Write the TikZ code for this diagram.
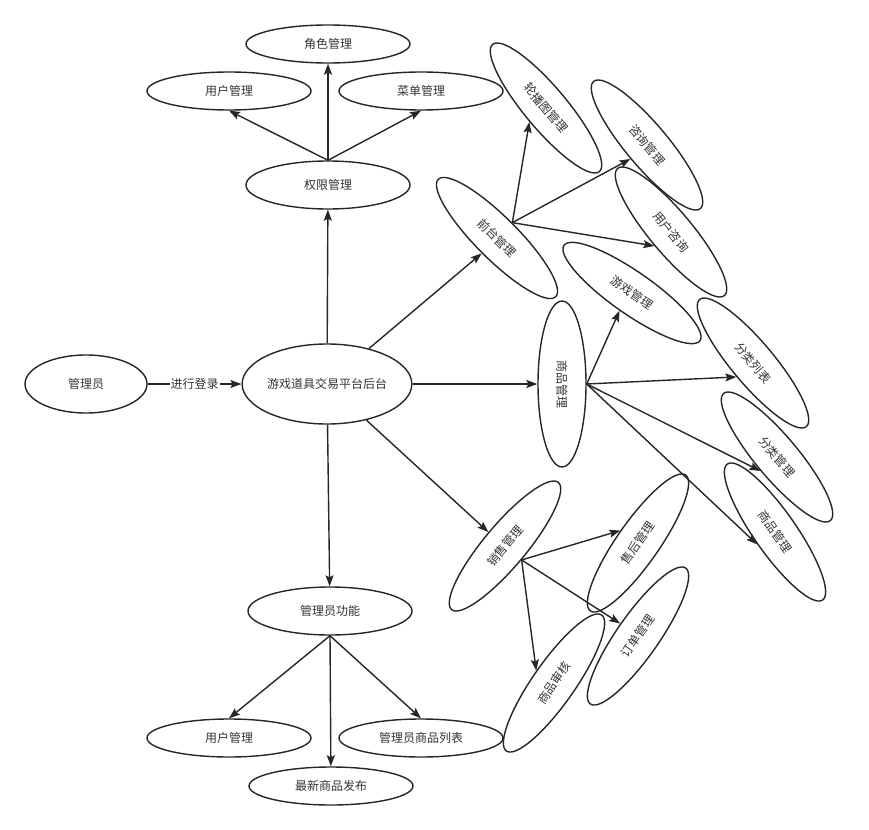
\documentclass[tikz,border=0pt]{standalone}
\usepackage{fontspec}
\setmainfont{Noto Sans CJK SC}
\usetikzlibrary{arrows.meta, shapes.geometric}

\begin{document}
\begin{tikzpicture}[x=1pt, y=-1pt, >={Stealth[length=11pt, width=8pt, inset=2pt]}, line width=1.4pt, draw=black!85, text=black!80,
	ent/.style={draw, ellipse, inner sep=0pt, minimum width=164pt, minimum height=38pt, font=\fontsize{12}{14}\selectfont},
	big/.style={ent, minimum height=48pt},
	tilt/.style={ent, minimum width=166pt, minimum height=42pt, rotate=#1}]
				\useasboundingbox (0,0) rectangle (869,829);
				\node [ent, minimum width=122pt, minimum height=58pt] (mgr) at (86,384) {管理员};
				\node [ent, minimum width=168pt, minimum height=80pt] (hub) at (327,384) {游戏道具交易平台后台};
				\node [big] (qx) at (328,185) {权限管理};
				\node [ent] (js) at (328,44) {角色管理};
				\node [ent] (yh1) at (229,91) {用户管理};
				\node [ent] (cd) at (421,91) {菜单管理};
				\node [big] (gn) at (330,611) {管理员功能};
				\node [ent] (yh2) at (229,738) {用户管理};
				\node [ent] (splb) at (421,738) {管理员商品列表};
				\node [ent] (xf) at (331,786) {最新商品发布};
				
				\node [tilt=-45] (qt) at (497,238) {前台管理};
				\node [tilt=-50] (lb) at (546,108) {轮播图管理};
				\node [tilt=-50] (zx) at (647,145) {咨询管理};
				\node [tilt=-50] (yhzx) at (671,232) {用户咨询};
				\node [tilt=-35] (yx) at (632,293) {游戏管理};
				\node [tilt=-90, minimum height=48pt] (sp) at (562,384) {商品管理};
				\node [tilt=-50] (fllb) at (753,363) {分类列表};
				\node [tilt=-50] (flgl) at (777,457) {分类管理};
				\node [tilt=-55] (sp2) at (775,532) {商品管理};
				\node [tilt=50] (xs) at (505,546) {销售管理};
				\node [tilt=55] (sh) at (638,543) {售后管理};
				\node [tilt=55] (dd) at (638,636) {订单管理};
				\node [tilt=55] (spsh) at (554,683) {商品审核};
				
				\draw [->] (mgr) -- node [fill=white, inner sep=1pt, font=\fontsize{12}{14}\selectfont] {进行登录} (hub);
				\draw [->] (hub) -- (qx);
				\draw [->] (qx.north) -- (js);
				\draw [->] (qx.north) -- (yh1.south);
				\draw [->] (qx.north) -- (cd.south);
				\draw [->] (hub) -- (qt.south);
				\draw [->] (hub) -- (sp);
				\draw [->] (hub) -- (xs.north);
				\draw [->] (hub) -- (gn);
				\draw [->] (qt.north) -- (lb.south);
				\draw [->] (qt.north) -- (zx.south);
				\draw [->] (qt.north) -- (yhzx.south);
				\draw [->] (sp.north) -- (yx.south);
				\draw [->] (sp.north) -- (fllb.south);
				\draw [->] (sp.north) -- (flgl.south);
				\draw [->] (sp.north) -- (sp2.south);
				\draw [->] (xs.south) -- (sh.north);
				\draw [->] (xs.south) -- (dd.north);
				\draw [->] (xs.south) -- (spsh.north);
				\draw [->] (gn.south) -- (yh2.north);
				\draw [->] (gn.south) -- (xf);
				\draw [->] (gn.south) -- (splb.north);
			\end{tikzpicture}
\end{document}
